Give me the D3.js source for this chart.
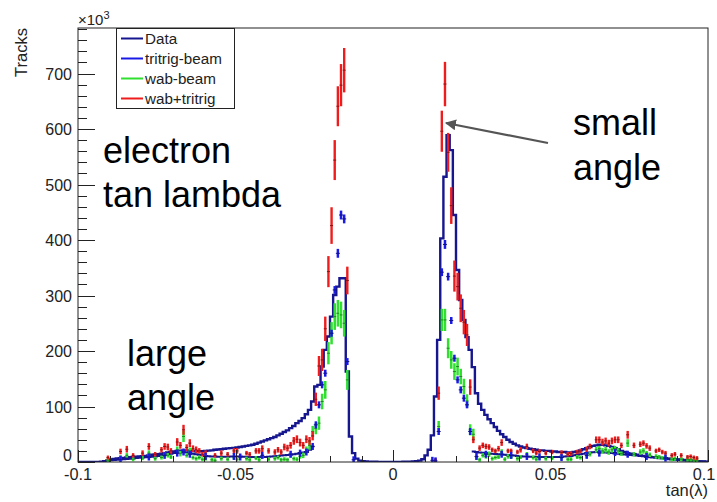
<!DOCTYPE html>
<html><head><meta charset="utf-8">
<script src="https://cdn.jsdelivr.net/npm/d3@7/dist/d3.min.js"></script>
<style>
body{margin:0;background:#fff}
svg{display:block}
text{font-family:"Liberation Sans",Arial,Helvetica,sans-serif}
</style>
</head><body>
<svg id="c" width="717" height="502"></svg>
<script>
// ---------------- DATA ----------------
const binLow = -0.1, binWidth = 0.001;            // histogram binning (tan lambda)
// Data histogram, counts in units of 10^3, 200 bins from -0.1 to 0.1
const dataCounts = [
  0,0,0,0,0,0,0.2,0.5,1.5,3,
  4.5,5.5,6.5,7,7.5,8,8.5,9,9.5,10,
  10.5,11,12,13,13.5,14,15,16,17,18,
  19,20,20.5,21,21,20.5,20,19.5,19.5,19.5,
  20,20.5,21,22,22.5,23,24,24.5,25,25.5,
  26,27,28,29,30,31,33,35,37,39,
  41,43,45,48,51,54,57,61,65,70,
  74,79,86,94,109,136,139,172,202,226,
  262,301,316,331,331,163,46,16,6,2.5,
  1.5,1,0.7,0.5,0.4,0.3,0.3,0.3,0.3,0.3,
  0.3,0.3,0.3,0.4,0.5,0.7,1,1.5,2.5,5,
  12,22,48,118,220,403,514,589,562,445,
  346,292,256,225,202,171,124,105,94,85,
  77,70,63,56,50,45,40,36,33,30,
  28,26,25,24,23,22,21,21,20,20,
  19,19,18,18,18,17,17,18,19,21,
  23,25,27,29,30,31,31,30,29,27,
  25,23,20,18,16,15,14,13,12,11,
  10,9,8.5,8,7,6.5,6,5.5,5,4.5,
  4,3.5,3,2.5,2,1.5,1.2,1,0.8,0.5
];
// lower curve in the tails (10^3), left part starts at bin 8, right part at bin 125
const lowerLeftStartBin = 8;
const lowerLeft = [
  1,2,3,3.5,4,4.5,5,5.5,6,6.5,
  7,7.5,8,8.5,9,9.5,10,11,12,13,
  14,15,16,17,17.5,17.5,17,16,15,14,
  13,12,11,10.5,10,10,9.5,9.5,9.5,9.5,
  10,10,10,10,9.5,9.5,9,9,9,9,
  9,9,9.5,10,10.5,11,11.5,12,12.5,13,
  14,15,16,17,18,22,28
];
const lowerRightStartBin = 125;
const lowerRight = [
  19,18,17,16.5,16,15.5,15,14.5,14,13.5,
  13,12.5,12,11.5,11,10.5,10,10,9.5,9.5,
  9,9,9,9,9,9,9,9,9.5,10,
  10.5,11,12,13,14,15,16,17,17.5,18,
  18,17.5,17,16.5,16,15.5,15,14,13.5,13,
  12.5,12,11.5,11,10.5,10,9.5,9,8.5,8,
  7.5,7,6.5,6,5.5,5,4.5,4,3.5,3,
  2.5,2,1.5,1,0.5
];
// MC points: [tan lambda, value (10^3), error (10^3)]
const wabTritrigPts = [
  [-0.0905,8,3],[-0.0865,19,5],[-0.0845,23,6],[-0.0825,12,4],[-0.0795,16,5],[-0.0775,28,6],
  [-0.0755,14,4],[-0.0735,22,5],[-0.0725,28,6],[-0.0715,27,6],[-0.0705,20,5],[-0.0685,36,7],
  [-0.0675,30,6],[-0.0665,58,9],[-0.0655,26,6],[-0.0645,34,7],[-0.0635,24,6],[-0.0625,22,6],
  [-0.0615,20,5],[-0.0605,14,4],[-0.0595,16,5],[-0.0565,12,4],[-0.0545,16,5],[-0.0525,14,4],
  [-0.0505,20,5],[-0.0495,20,5],[-0.0465,16,4],[-0.0455,14,4],[-0.0435,20,5],[-0.0425,20,5],
  [-0.0415,24,6],[-0.0395,20,5],[-0.0375,18,5],[-0.0365,22,5],[-0.0355,18,5],[-0.0345,27,6],
  [-0.0335,25,6],[-0.0325,30,6],[-0.0315,38,7],[-0.0305,41,7],[-0.0295,35,7],[-0.0285,30,6],
  [-0.0275,41,7],[-0.0265,38,7],[-0.0255,47,8],[-0.0245,113,12],[-0.0235,173,18],[-0.0225,184,20],
  [-0.0215,240,22],[-0.0205,343,28],[-0.0195,426,33],[-0.0185,544,36],[-0.0175,641,36],
  [-0.0165,679,38],[-0.0155,706,40],[-0.0145,327,25],
  [0.0135,3,2],[0.0145,124,12],[0.0155,596,37],[0.0165,681,40],[0.0175,558,35],[0.0185,462,33],
  [0.0195,335,28],[0.0205,316,25],[0.0215,277,25],[0.0225,252,22],[0.0235,229,20],[0.0245,135,14],
  [0.0255,40,6],[0.0275,25,5],[0.0285,30,5],[0.0295,28,5],[0.0305,27,5],[0.0315,22,4],
  [0.0325,20,4],[0.0335,24,5],[0.0345,35,6],[0.0365,20,4],[0.0375,20,4],[0.0395,18,4],
  [0.0405,22,5],[0.0425,28,5],[0.0445,20,4],[0.0455,16,4],[0.0465,19,4],[0.0485,16,4],
  [0.0505,18,4],[0.0535,17,4],[0.0555,14,4],[0.0565,15,4],[0.0585,18,4],[0.0595,20,4],
  [0.0615,23,5],[0.0625,28,5],[0.0645,40,6],[0.0655,40,6],[0.0665,36,6],[0.0675,38,6],
  [0.0685,34,6],[0.0695,38,6],[0.0705,40,6],[0.0715,40,6],[0.0725,30,5],[0.0745,49,7],
  [0.0765,30,5],[0.0785,32,5],[0.0795,34,5],[0.0805,29,5],[0.0815,25,5],[0.0835,20,4],
  [0.0845,22,4],[0.0855,18,4],[0.0865,16,4],[0.0885,12,4],[0.0895,14,4],[0.0915,12,4],
  [0.0935,9,3],[0.0945,10,3],[0.0955,8,3],[0.0965,7,3]
];
const wabBeamPts = [
  [-0.0905,3,2],[-0.0865,8,4],[-0.0845,12,4],[-0.0825,5,3],[-0.0795,7,3],[-0.0775,16,5],
  [-0.0755,6,3],[-0.0735,8,3],[-0.0725,14,4],[-0.0715,12,4],[-0.0705,9,3],[-0.0685,22,6],
  [-0.0675,15,5],[-0.0665,46,10],[-0.0655,12,4],[-0.0645,20,6],[-0.0635,8,3],[-0.0625,6,3],
  [-0.0615,8,3],[-0.0605,5,3],[-0.0595,6,3],[-0.0575,4,2],[-0.0565,3,2],[-0.0545,6,3],
  [-0.0525,5,3],[-0.0505,8,3],[-0.0495,5,3],[-0.0465,6,3],[-0.0455,4,2],[-0.0435,7,3],
  [-0.0425,4,2],[-0.0415,10,4],[-0.0395,5,3],[-0.0375,6,3],[-0.0365,8,3],[-0.0355,4,2],
  [-0.0345,5,3],[-0.0335,4,2],[-0.0325,12,4],[-0.0315,6,3],[-0.0305,5,3],[-0.0295,10,4],
  [-0.0285,12,5],[-0.0275,22,6],[-0.0265,30,8],[-0.0255,55,10],[-0.0245,60,10],[-0.0235,70,12],
  [-0.0225,109,14],[-0.0215,130,16],[-0.0205,196,20],[-0.0195,232,20],[-0.0185,262,24],
  [-0.0175,268,24],[-0.0165,265,24],[-0.0155,250,24],[-0.0145,148,18],
  [0.0135,2,1.5],[0.0145,64,10],[0.0155,256,20],[0.0165,256,20],[0.0175,205,18],[0.0185,184,16],
  [0.0195,163,15],[0.0205,172,16],[0.0215,154,14],[0.0225,136,14],[0.0235,110,12],[0.0245,58,10],
  [0.0255,50,10],[0.0265,8,4],[0.0275,4,3],[0.0285,12,4],[0.0295,10,4],[0.0305,14,5],
  [0.0315,6,3],[0.0325,8,3],[0.0335,9,3],[0.0345,18,5],[0.0355,5,3],[0.0365,10,4],
  [0.0375,9,3],[0.0395,6,3],[0.0405,9,3],[0.0425,14,4],[0.0445,8,3],[0.0455,5,3],
  [0.0465,8,3],[0.0485,6,3],[0.0505,7,3],[0.0535,8,3],[0.0555,5,3],[0.0565,5,3],
  [0.0585,9,3],[0.0595,8,3],[0.0615,12,4],[0.0625,14,4],[0.0645,22,5],[0.0655,24,5],
  [0.0665,20,5],[0.0675,22,5],[0.0685,18,5],[0.0695,22,5],[0.0705,24,5],[0.0715,20,5],
  [0.0725,15,4],[0.0745,34,7],[0.0765,14,4],[0.0785,18,5],[0.0795,20,5],[0.0805,16,4],
  [0.0815,13,4],[0.0835,10,4],[0.0845,9,3],[0.0855,7,3],[0.0865,8,3],[0.0885,5,3],
  [0.0895,6,3],[0.0915,5,3],[0.0935,4,2],[0.0945,4,2],[0.0955,3,2],[0.0965,3,2]
];
const tritrigBeamPts = [
  [-0.0865,5,1.5],[-0.0775,9,2],[-0.0725,12,2],[-0.0685,16,2],[-0.0665,18,2],[-0.0645,14,2],
  [-0.0595,10,2],[-0.0505,10,2],[-0.0485,9,2],[-0.0415,12,2],[-0.0325,14,2],[-0.0295,16,2],
  [-0.0275,18,2],[-0.0255,28,3],[-0.0245,67,4],[-0.0235,103,4],[-0.0225,139,5],[-0.0215,160,5],
  [-0.0195,232,6],[-0.0185,310,7],[-0.0175,376,8],[-0.0165,445,8],[-0.0155,438,8],[-0.0145,181,6],
  [-0.0125,4,1],[0.0125,3,1],
  [0.0135,2,1],[0.0145,55,3],[0.0155,342,7],[0.0165,392,8],[0.0175,334,7],[0.0185,255,6],
  [0.0195,187,5],[0.0205,148,5],[0.0215,130,5],[0.0225,115,5],[0.0235,103,4],[0.0245,55,3],
  [0.0265,10,2],[0.0295,14,2],[0.0345,14,2],[0.0375,12,2],[0.0425,10,2],[0.0465,9,2],
  [0.0535,8,2],[0.0615,12,2],[0.0655,16,2],[0.0705,17,2],[0.0745,14,2],[0.0805,10,2],[0.0865,7,2]
];
const xMajorTicks = [-0.1,-0.05,0,0.05,0.1];
const xTickLabels = ["-0.1","-0.05","0","0.05","0.1"];
const yMajorTicks = [0,100,200,300,400,500,600,700];
const yTickLabels = ["0","100","200","300","400","500","600","700"];
const legendLabels = ["Data","tritrig-beam","wab-beam","wab+tritrig"];
const notes = [["electron","tan lambda"],["large","angle"],["small","angle"]];

// ---------------- DRAW ----------------
const svg = d3.select("#c");
svg.append("rect").attr("width",717).attr("height",502).attr("fill","#fff");
const L=78, R=708, T=28, B=462;
const x = d3.scaleLinear().domain([-0.1,0.1]).range([L,R]);
const y = d3.scaleLinear().domain([0,782]).range([B,T]);

const cData="#16168e", cTri="#1a1ae6", cWab="#2fe02f", cSum="#ee1c1c", axisC="#222";

const plot = svg.append("g");
plot.append("clipPath").attr("id","clip").append("rect").attr("x",L).attr("y",T).attr("width",R-L).attr("height",B-T);
const pg = plot.append("g").attr("clip-path","url(#clip)");

// Data histogram (step)
const stepPts = dataCounts.map((v,i)=>[binLow+i*binWidth, v]);
stepPts.push([binLow+dataCounts.length*binWidth, dataCounts[dataCounts.length-1]]);
const stepLine = d3.line().x(d=>x(d[0])).y(d=>y(d[1])).curve(d3.curveStepAfter);
pg.append("path").attr("d",stepLine(stepPts)).attr("fill","none").attr("stroke",cData).attr("stroke-width",2.4);

// lower curves
function lowerPts(arr,start){
  const p = arr.map((v,i)=>[binLow+(start+i)*binWidth, v]);
  p.push([binLow+(start+arr.length)*binWidth, arr[arr.length-1]]);
  return p;
}
[[lowerLeft,lowerLeftStartBin],[lowerRight,lowerRightStartBin]].forEach(([a,s])=>{
  pg.append("path").attr("d",stepLine(lowerPts(a,s))).attr("fill","none").attr("stroke",cData).attr("stroke-width",2);
});

// error-bar points
function drawPts(pts,color,w,minHalf,tickW){
  const g = pg.append("g");
  const sel = g.selectAll("g").data(pts).join("g");
  sel.append("line")
    .attr("x1",d=>x(d[0])).attr("x2",d=>x(d[0]))
    .attr("y1",d=>Math.min(y(d[1]+d[2]), y(d[1])-minHalf))
    .attr("y2",d=>Math.max(y(Math.max(0,d[1]-d[2])), Math.min(B, y(d[1])+minHalf)))
    .attr("stroke",color).attr("stroke-width",w);
  sel.append("line")
    .attr("x1",d=>x(d[0])-tickW/2).attr("x2",d=>x(d[0])+tickW/2)
    .attr("y1",d=>y(d[1])).attr("y2",d=>y(d[1]))
    .attr("stroke",d3.color(color).darker(1.4)).attr("stroke-width",1);
}
drawPts(wabBeamPts,cWab,2.5,2,3);
drawPts(wabTritrigPts,cSum,2.4,2,3);
drawPts(tritrigBeamPts,cTri,2.5,3.5,4);

// frame
svg.append("rect").attr("x",L).attr("y",T).attr("width",R-L).attr("height",B-T)
  .attr("fill","none").attr("stroke",axisC).attr("stroke-width",1);

// y axis ticks (inward)
const yMinor = d3.range(0,781,20);
svg.append("g").selectAll("line").data(yMinor).join("line")
  .attr("x1",L).attr("x2",d=>L+(d%100===0?17:9))
  .attr("y1",d=>Math.round(y(d))+0.5).attr("y2",d=>Math.round(y(d))+0.5)
  .attr("stroke",axisC).attr("stroke-width",1);
svg.append("g").selectAll("text").data(yMajorTicks).join("text")
  .attr("x",72).attr("y",(d,i)=>y(d)+(d===0?-1:6))
  .attr("text-anchor","end").attr("font-size",16).attr("fill",axisC)
  .text((d,i)=>yTickLabels[i]);

// x axis ticks (inward)
const xMinor = d3.range(-100,101,10).map(v=>v/1000);
svg.append("g").selectAll("line").data(xMinor).join("line")
  .attr("x1",d=>Math.round(x(d))+0.5).attr("x2",d=>Math.round(x(d))+0.5)
  .attr("y1",B).attr("y2",d=>B-(Math.abs(Math.round(d*1000))%50===0?12:6))
  .attr("stroke",axisC).attr("stroke-width",1);
svg.append("g").selectAll("text").data(xMajorTicks).join("text")
  .attr("x",d=>Math.min(x(d),704)).attr("y",480)
  .attr("text-anchor","middle").attr("font-size",16.3).attr("fill",axisC)
  .text((d,i)=>xTickLabels[i]);

// axis titles
svg.append("text").attr("transform","translate(27,28) rotate(-90)").attr("text-anchor","end")
  .attr("font-size",16.5).attr("fill",axisC).text("Tracks");
const ex = svg.append("text").attr("x",78).attr("y",25).attr("font-size",15).attr("fill",axisC);
ex.append("tspan").text("\u00d710");
ex.append("tspan").attr("dy",-6).attr("font-size",11).text("3");
svg.append("text").attr("x",708).attr("y",496).attr("text-anchor","end")
  .attr("font-size",16.5).attr("fill",axisC).text("tan(\u03bb)");

// legend
const lg = svg.append("g");
lg.append("rect").attr("x",116.5).attr("y",28.5).attr("width",118).attr("height",80)
  .attr("fill","#fff").attr("stroke",axisC).attr("stroke-width",1);
const lgColors=[cData,cTri,cWab,cSum];
legendLabels.forEach((lab,i)=>{
  const cy = 38.5+i*20;
  lg.append("line").attr("x1",121).attr("x2",143).attr("y1",cy).attr("y2",cy)
    .attr("stroke",lgColors[i]).attr("stroke-width",2);
  lg.append("text").attr("x",145).attr("y",cy+5.5).attr("font-size",15.2).attr("fill",axisC).text(lab);
});

// annotations
const notePos=[[103,163,207],[127,366,410],[573,135,180]];
notes.forEach((n,i)=>{
  svg.append("text").attr("x",notePos[i][0]).attr("y",notePos[i][1]).attr("font-size",36).attr("fill","#000").text(n[0]);
  svg.append("text").attr("x",notePos[i][0]).attr("y",notePos[i][2]).attr("font-size",36).attr("fill","#000").text(n[1]);
});
// arrow
svg.append("defs").append("marker").attr("id","ah").attr("viewBox","0 0 10 10")
  .attr("refX",9).attr("refY",5).attr("markerWidth",5).attr("markerHeight",5).attr("orient","auto")
  .append("path").attr("d","M0,0 L10,5 L0,10 z").attr("fill","#555");
svg.append("line").attr("x1",548).attr("y1",143).attr("x2",446).attr("y2",123)
  .attr("stroke","#555").attr("stroke-width",2.2).attr("marker-end","url(#ah)");
</script>
</body></html>
